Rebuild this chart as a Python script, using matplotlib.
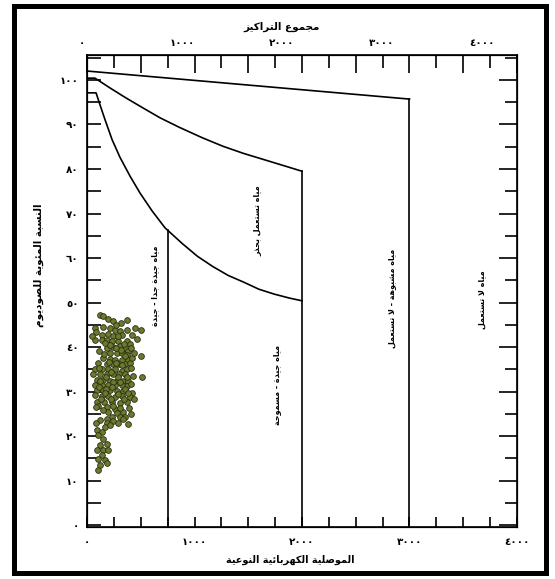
import matplotlib
matplotlib.use('Agg')
import matplotlib.pyplot as plt
import numpy as np
from matplotlib.ticker import MultipleLocator, FuncFormatter, NullFormatter
from matplotlib.patches import Rectangle

# ---------------- data ----------------
ec = [121,195,242,316,372,74,149,214,260,307,372,502,84,140,195,242,326,465,74,140,
      186,233,288,372,400,112,186,242,307,353,381,214,279,326,372,502,149,214,260,326,
      381,102,186,242,298,353,400,74,140,195,260,326,372,56,121,186,242,298,353,512,
      93,149,214,279,335,381,74,140,195,260,326,372,93,149,214,279,335,419,74,140,
      195,260,326,400,93,158,233,307,372,102,186,260,391,195,279,335,233,307,186,121,
      242,288,381,186,93,140,167,102,149,121,186,93,149,195,140,102,167,121,186,102,
      167,288,344,214,270,316,409,158,353,419,205,270,326,409,112,223,288,372,428,121,
      177,242,307,409,112,177,233,353,288,130,223,344,437,84,149,307,353,409,214,149,
      270,446,47,419,437,381,167,242,335,84]
na = [47.2,46.3,45.9,45.4,46.1,44.3,44.5,44.3,43.9,43.6,43.9,43.9,43.4,42.8,43.0,42.5,42.8,41.9,41.6,41.6,
      41.6,41.4,41.4,41.4,40.8,39.2,39.9,40.1,40.3,39.9,39.2,38.7,38.7,38.7,38.3,37.9,37.6,37.4,37.2,37.2,
      37.2,36.5,36.1,36.1,36.1,36.1,36.5,35.0,35.0,35.0,35.0,34.7,35.0,33.9,33.9,33.9,33.9,33.9,33.9,33.2,
      32.7,32.7,32.5,32.5,32.5,32.5,31.6,31.6,31.6,31.4,31.4,31.2,30.3,30.3,30.3,30.1,30.1,29.8,29.2,29.0,
      29.0,28.7,29.0,28.7,27.6,27.6,27.6,27.4,27.6,26.7,26.5,26.1,26.3,25.4,25.2,25.4,24.3,24.3,23.8,23.6,
      23.4,22.9,22.7,22.9,21.4,20.9,22.0,20.3,19.4,18.0,18.3,16.9,16.9,16.9,15.8,14.9,14.7,13.6,14.0,12.5,
      41.0,42.5,40.8,40.5,39.9,39.4,39.9,38.5,37.9,37.6,36.7,36.5,35.9,35.4,35.4,34.3,33.2,33.2,33.6,32.5,
      33.2,32.1,32.1,31.8,31.0,30.7,31.0,30.7,29.4,28.3,28.3,28.3,28.3,26.5,25.8,26.3,24.3,24.9,22.5,47.0,
      45.0,44.3,42.5,42.8,38.7,29.6,29.6,26.7,23.8,22.9]

top_line_ec = [0, 3000]
top_line_na = [102.0, 95.7]
mid_line_ec = [0, 74, 214, 353, 493, 679, 855, 1074, 1265, 1456, 1647, 1837, 2000]
mid_line_na = [100.4, 100.4, 98.2, 96.1, 94.1, 91.5, 89.4, 87.0, 85.1, 83.5, 82.1, 80.7, 79.5]
low_line_ec = [0, 84, 121, 167, 233, 307, 400, 493, 605, 725, 884, 1027, 1170, 1313, 1456,
               1599, 1742, 1885, 2000]
low_line_na = [97.1, 97.1, 94.4, 91.1, 86.6, 82.6, 78.4, 74.6, 70.6, 66.8, 63.3, 60.4, 58.1,
               56.1, 54.6, 53.0, 51.9, 51.0, 50.4]
boundary_ec = [750, 2000, 3000]

# top (total dissolved solids) scale: tds = tds_gain * (ec + tds_offset)
tds_ticks = [0, 1000, 2000, 3000, 4000]
tds_gain = 1.075
tds_offset = 47

zone_labels = ["مياه جيدة جدا - جيدة", "مياه تستعمل بحذر", "مياه جيدة - مسموحة",
               "مياه مشبوهة - لا تستعمل", "مياه لا تستعمل"]
zone_ec = [633, 1590, 1767, 2837, 3674]
zone_na = [53.7, 68.4, 31.4, 51.0, 50.6]

title_text = "مجموع التراكيز"
xlabel_text = "الموصلية الكهربائية النوعية"
ylabel_text = "النسبة المئوية للصوديوم"

# ------------- minimal Arabic shaping -------------
_F = {
 'ء': ('\uFE80', None, None, None),
 'آ': ('\uFE81', '\uFE82', None, None),
 'أ': ('\uFE83', '\uFE84', None, None),
 'ؤ': ('\uFE85', '\uFE86', None, None),
 'إ': ('\uFE87', '\uFE88', None, None),
 'ئ': ('\uFE89', '\uFE8A', '\uFE8B', '\uFE8C'),
 'ا': ('\uFE8D', '\uFE8E', None, None),
 'ب': ('\uFE8F', '\uFE90', '\uFE91', '\uFE92'),
 'ة': ('\uFE93', '\uFE94', None, None),
 'ت': ('\uFE95', '\uFE96', '\uFE97', '\uFE98'),
 'ث': ('\uFE99', '\uFE9A', '\uFE9B', '\uFE9C'),
 'ج': ('\uFE9D', '\uFE9E', '\uFE9F', '\uFEA0'),
 'ح': ('\uFEA1', '\uFEA2', '\uFEA3', '\uFEA4'),
 'خ': ('\uFEA5', '\uFEA6', '\uFEA7', '\uFEA8'),
 'د': ('\uFEA9', '\uFEAA', None, None),
 'ذ': ('\uFEAB', '\uFEAC', None, None),
 'ر': ('\uFEAD', '\uFEAE', None, None),
 'ز': ('\uFEAF', '\uFEB0', None, None),
 'س': ('\uFEB1', '\uFEB2', '\uFEB3', '\uFEB4'),
 'ش': ('\uFEB5', '\uFEB6', '\uFEB7', '\uFEB8'),
 'ص': ('\uFEB9', '\uFEBA', '\uFEBB', '\uFEBC'),
 'ض': ('\uFEBD', '\uFEBE', '\uFEBF', '\uFEC0'),
 'ط': ('\uFEC1', '\uFEC2', '\uFEC3', '\uFEC4'),
 'ظ': ('\uFEC5', '\uFEC6', '\uFEC7', '\uFEC8'),
 'ع': ('\uFEC9', '\uFECA', '\uFECB', '\uFECC'),
 'غ': ('\uFECD', '\uFECE', '\uFECF', '\uFED0'),
 'ف': ('\uFED1', '\uFED2', '\uFED3', '\uFED4'),
 'ق': ('\uFED5', '\uFED6', '\uFED7', '\uFED8'),
 'ك': ('\uFED9', '\uFEDA', '\uFEDB', '\uFEDC'),
 'ل': ('\uFEDD', '\uFEDE', '\uFEDF', '\uFEE0'),
 'م': ('\uFEE1', '\uFEE2', '\uFEE3', '\uFEE4'),
 'ن': ('\uFEE5', '\uFEE6', '\uFEE7', '\uFEE8'),
 'ه': ('\uFEE9', '\uFEEA', '\uFEEB', '\uFEEC'),
 'و': ('\uFEED', '\uFEEE', None, None),
 'ى': ('\uFEEF', '\uFEF0', None, None),
 'ي': ('\uFEF1', '\uFEF2', '\uFEF3', '\uFEF4'),
}
_LA = {'ا': ('\uFEFB', '\uFEFC'), 'أ': ('\uFEF7', '\uFEF8'),
       'إ': ('\uFEF9', '\uFEFA'), 'آ': ('\uFEF5', '\uFEF6')}


def shape(text):
    toks = []
    i = 0
    while i < len(text):
        c = text[i]
        if c == 'ل' and i + 1 < len(text) and text[i + 1] in _LA:
            toks.append(('LA', text[i + 1]))
            i += 2
        else:
            toks.append(c)
            i += 1

    def dual(t):
        return (not isinstance(t, tuple)) and t in _F and _F[t][2] is not None

    def joining(t):
        if isinstance(t, tuple):
            return True
        return t in _F and _F[t][1] is not None

    out = []
    for k, t in enumerate(toks):
        prev = toks[k - 1] if k > 0 else None
        nxt = toks[k + 1] if k + 1 < len(toks) else None
        pc = prev is not None and dual(prev) and joining(t)
        nc = nxt is not None and dual(t) and joining(nxt)
        if isinstance(t, tuple):
            out.append(_LA[t[1]][1] if pc else _LA[t[1]][0])
        elif t in _F:
            f = _F[t]
            if pc and nc:
                g = f[3]
            elif pc:
                g = f[1]
            elif nc:
                g = f[2]
            else:
                g = f[0]
            out.append(g)
        else:
            out.append(t)
    return ''.join(reversed(out))


_DIG = str.maketrans('0123456789', '٠١٢٣٤٥٦٧٨٩')


def adig(v):
    return str(int(round(v))).translate(_DIG)


# ---------------- figure ----------------
plt.rcParams['font.family'] = ['DejaVu Sans']
fig = plt.figure(figsize=(5.55, 5.79), dpi=100)
ax = fig.add_axes([0.1568, 0.0898, 0.7747, 0.8152])
ax.set_xlim(0, 4000)
ax.set_ylim(-0.4, 105.6)

lw = 1.2
for s in ax.spines.values():
    s.set_linewidth(lw)

ax.plot(top_line_ec, top_line_na, color='black', lw=lw, solid_joinstyle='round')
ax.plot(mid_line_ec, mid_line_na, color='black', lw=lw, solid_joinstyle='round')
ax.plot(low_line_ec, low_line_na, color='black', lw=lw, solid_joinstyle='round')
tops = [np.interp(boundary_ec[0], low_line_ec, low_line_na),
        np.interp(boundary_ec[1], mid_line_ec, mid_line_na),
        np.interp(boundary_ec[2], top_line_ec, top_line_na)]
for bx, by in zip(boundary_ec, tops):
    ax.plot([bx, bx], [0, by], color='black', lw=lw)

ax.scatter(ec, na, s=17, c='#6b7a2e', edgecolors='#2a2e12', linewidths=0.6, zorder=3)

for lab, x, y in zip(zone_labels, zone_ec, zone_na):
    ax.text(x, y, shape(lab), rotation=90, ha='center', va='center',
            fontsize=5.8, fontweight='bold', color='black')

tick_font = dict(fontsize=7.5, fontweight='bold')

# bottom axis ticks
ax.xaxis.set_major_locator(MultipleLocator(250))
ax.xaxis.set_major_formatter(FuncFormatter(lambda v, p: adig(v) if abs(v % 1000) < 1e-6 else ''))
ax.tick_params(axis='x', which='major', direction='in', length=7, width=lw, pad=7,
               labelsize=7.5, top=False, bottom=True)

# left axis ticks
ax.yaxis.set_major_locator(MultipleLocator(10))
ax.yaxis.set_minor_locator(MultipleLocator(5))
ax.yaxis.set_major_formatter(FuncFormatter(lambda v, p: adig(v)))
ax.tick_params(axis='y', which='both', direction='in', length=10, width=lw, pad=6,
               labelsize=7.5, left=True, right=False)
for t in ax.get_xticklabels() + ax.get_yticklabels():
    t.set_fontweight('bold')

# top axis: tick marks
axT = ax.twiny()
axT.set_xlim(0, 4000)
axT.xaxis.set_major_locator(MultipleLocator(500))
axT.xaxis.set_minor_locator(MultipleLocator(250))
axT.xaxis.set_major_formatter(NullFormatter())
axT.tick_params(axis='x', which='major', direction='in', length=13, width=lw)
axT.tick_params(axis='x', which='minor', direction='in', length=9, width=lw)
# top axis labels on the TDS scale
for tv in tds_ticks:
    ax.text(tv / tds_gain - tds_offset, 1.0254, adig(tv), transform=ax.get_xaxis_transform(),
            ha='center', va='center', clip_on=False, **tick_font)

# right axis
axR = ax.twinx()
axR.set_ylim(ax.get_ylim())
axR.yaxis.set_major_locator(MultipleLocator(10))
axR.yaxis.set_minor_locator(MultipleLocator(5))
axR.tick_params(axis='y', which='major', direction='in', length=13, width=lw, labelright=False)
axR.tick_params(axis='y', which='minor', direction='in', length=9, width=lw)

fig.text(0.508, 0.953, shape(title_text), ha='center', va='center', fontsize=7.5, fontweight='bold')
fig.text(0.523, 0.033, shape(xlabel_text), ha='center', va='center', fontsize=7, fontweight='bold')
fig.text(0.070, 0.542, shape(ylabel_text), ha='center', va='center', fontsize=7.5,
         fontweight='bold', rotation=90)

fig.patches.append(Rectangle((0.026, 0.0104), 0.958, 0.979, transform=fig.transFigure,
                             fill=False, lw=3.6, ec='black'))

fig.savefig('out.png', dpi=100)
